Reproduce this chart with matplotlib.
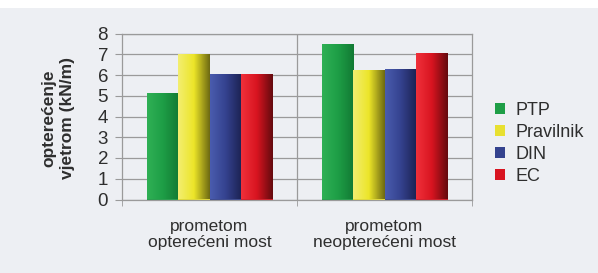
import numpy as np
import matplotlib
matplotlib.use("Agg")
import matplotlib.pyplot as plt
from matplotlib.colors import LinearSegmentedColormap
from matplotlib.patches import Rectangle

# data
categories = ["prometom\nopterećeni most", "prometom\nneopterećeni most"]
series = ["PTP", "Pravilnik", "DIN", "EC"]
ptp = [5.15, 7.48]
pravilnik = [7.02, 6.24]
din = [6.05, 6.27]
ec = [6.05, 7.07]
values = [ptp, pravilnik, din, ec]

# colours: solid for legend, (left, middle, right) for the shaded bars
solid = ["#1e9e46", "#e8e030", "#34428e", "#d81420"]
shades = [
    ("#2fb055", "#1e9e46", "#127a34"),
    ("#f3ee70", "#ece528", "#6e6a12"),
    ("#4a5cae", "#34428e", "#1c2252"),
    ("#f0303a", "#d81420", "#640a0e"),
]

plt.rcParams["font.family"] = ["Liberation Sans", "DejaVu Sans"]
text_col = "#2e2e2e"
grid_col = "#9a9a9a"

fig = plt.figure(figsize=(5.98, 2.73), dpi=100)
fig.patch.set_facecolor("#edeff3")
# white strip across the top (cut page)
fig.add_artist(Rectangle((0, 1 - 8 / 273), 1, 8 / 273, transform=fig.transFigure,
                         facecolor="white", edgecolor="none", zorder=0))

ax = fig.add_axes([122 / 598, 73.5 / 273, 350 / 598, 166 / 273])
ax.set_facecolor("#edeff3")

x = np.arange(len(categories))
w = 0.18
for i, (vals, s) in enumerate(zip(values, series)):
    bars = ax.bar(x + (i - 1.5) * w, vals, w, color=solid[i], label=s, zorder=2, linewidth=0)
    cmap = LinearSegmentedColormap.from_list(s, shades[i])
    grad = np.linspace(0, 1, 64).reshape(1, -1)
    for b in bars:
        bx, by = b.get_x(), b.get_y()
        im = ax.imshow(grad, cmap=cmap, aspect="auto", zorder=3,
                       extent=(bx, bx + b.get_width(), by, by + b.get_height()))
        im.set_clip_path(b)

ax.set_xlim(-0.5, 1.5)
ax.set_ylim(0, 8)
ax.set_yticks(range(0, 9))
ax.yaxis.grid(True, color=grid_col, linewidth=0.9, zorder=1)
ax.axvline(0.5, color=grid_col, linewidth=0.9, zorder=1)
ax.set_xticks(x)
ax.set_xticklabels(categories, fontsize=12.5, color=text_col, linespacing=1.1)
ax.set_xticks([-0.5, 0.5, 1.5], minor=True)
ax.tick_params(axis="x", which="major", length=0, pad=14)
ax.tick_params(axis="x", which="minor", length=4, color=grid_col)
ax.tick_params(axis="y", length=5, color=grid_col, labelsize=13.5, labelcolor=text_col, pad=5)
for sp in ax.spines.values():
    sp.set_color(grid_col)
    sp.set_linewidth(0.9)

ax.set_ylabel("opterećenje\nvjetrom (kN/m)", fontsize=12.5, fontweight="bold",
              color=text_col, linespacing=1.3)
ax.yaxis.set_label_coords(-0.135, 0.49)

handles = [Rectangle((0, 0), 1, 1, facecolor=c, edgecolor="none") for c in solid]
fig.legend(handles, series, loc="upper left", bbox_to_anchor=(486 / 598, 1 - 93 / 273),
           frameon=False, fontsize=13, handlelength=0.55, handleheight=0.55,
           handletextpad=0.6, labelspacing=0.28, borderpad=0, labelcolor=text_col)

fig.savefig("out.png", dpi=100, facecolor=fig.get_facecolor())
